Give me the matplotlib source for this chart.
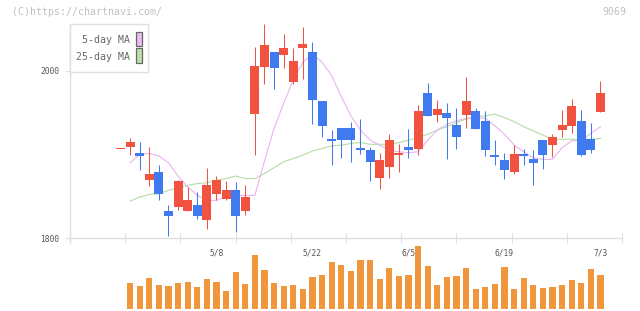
import matplotlib
matplotlib.use('Agg')
import matplotlib.pyplot as plt
from matplotlib.patches import Rectangle
from matplotlib.lines import Line2D
from matplotlib import transforms
import numpy as np

# 日足 (51本, 最終日 7/3)
opens = [1906, 1909, 1901, 1869, 1879, 1832, 1837, 1832, 1839, 1821,
         1853, 1847, 1857, 1832, 1948, 2004, 2022, 2019, 1986, 2027,
         2022, 1964, 1918, 1931, 1931, 1908, 1905, 1872, 1885, 1899,
         1909, 1906, 1973, 1947, 1949, 1935, 1947, 1952, 1940, 1899,
         1893, 1879, 1900, 1894, 1917, 1911, 1929, 1934, 1940, 1918, 1951]
highs = [1906, 1920, 1915, 1909, 1887, 1839, 1869, 1861, 1855, 1884,
         1874, 1868, 1867, 1863, 2028, 2056, 2022, 2044, 2027, 2052,
         2034, 1964, 1929, 1931, 1939, 1942, 1909, 1902, 1924, 1912,
         1930, 1959, 1985, 1965, 1961, 1955, 1992, 1955, 1952, 1917,
         1902, 1911, 1906, 1905, 1917, 1924, 1953, 1966, 1953, 1937, 1988]
lows = [1906, 1899, 1881, 1862, 1845, 1802, 1833, 1832, 1823, 1811,
        1845, 1845, 1807, 1827, 1899, 1984, 1978, 2003, 1984, 1990,
        1936, 1921, 1887, 1896, 1891, 1900, 1868, 1859, 1872, 1879,
        1896, 1899, 1946, 1939, 1894, 1906, 1931, 1930, 1898, 1887,
        1871, 1876, 1887, 1863, 1882, 1897, 1921, 1925, 1898, 1902, 1951]
closes = [1906, 1915, 1898, 1876, 1853, 1826, 1868, 1845, 1826, 1863,
          1869, 1857, 1826, 1849, 2006, 2031, 2003, 2027, 2012, 2032,
          1965, 1934, 1916, 1917, 1917, 1905, 1891, 1893, 1917, 1902,
          1905, 1952, 1946, 1954, 1943, 1921, 1964, 1930, 1905, 1897,
          1881, 1900, 1898, 1890, 1899, 1921, 1935, 1958, 1899, 1905, 1973]

# 移動平均 (チャートから読み取り)
ma5 = [np.nan, 1890, 1900, 1901, 1898, 1890, 1874, 1861, 1851, 1845,
       1845, 1850, 1851, 1851, 1851, 1892, 1931, 1961, 1989, 2010,
       2020, 2010, 1994, 1969, 1946, 1929, 1917, 1911, 1905, 1903,
       1902, 1903, 1917, 1929, 1936, 1940, 1943, 1944, 1943, 1934,
       1924, 1911, 1903, 1896, 1894, 1894, 1908, 1916, 1917, 1925, 1933]
ma25 = [np.nan, 1844, 1849, 1852, 1853, 1857, 1860, 1863, 1865, 1866,
        1869, 1871, 1874, 1871, 1871, 1877, 1884, 1891, 1895, 1899,
        1904, 1907, 1910, 1911, 1913, 1914, 1912, 1912, 1912, 1914,
        1917, 1920, 1924, 1929, 1933, 1938, 1942, 1945, 1946, 1948,
        1944, 1939, 1933, 1928, 1923, 1918, 1918, 1918, 1918, 1918, 1919]

# 出来高 (2本目から, 百株)
volume = [7500, 6600, 9000, 6900, 6600, 7500, 7800, 6300, 8700, 7800,
          5400, 10800, 7200, 15900, 11400, 7500, 6600, 6900, 5700, 9300,
          9900, 13800, 12900, 11100, 14400, 14400, 8700, 12000, 9600, 9900,
          18300, 12600, 6900, 9300, 9600, 12000, 5700, 6300, 7200, 12300,
          5700, 9000, 6900, 6000, 6300, 6900, 8400, 7500, 11700, 9900]

date_labels = ['5/8', '5/22', '6/5', '6/19', '7/3']
date_pos = [10, 20, 30, 40, 50]

UP = '#f25240'
DOWN = '#407af0'
VOLC = '#f0963c'
GRID = '#e0e0e0'
MONO = 'DejaVu Sans Mono'

W, H = 640, 311
fig = plt.figure(figsize=(W / 100, H / 100), dpi=100)


def fx(x):
    return x / W


def fy(y):
    return 1 - y / H


def px_axes(l, t, r, b):
    return fig.add_axes([fx(l), fy(b), (r - l) / W, (b - t) / H])


days = np.arange(len(closes))
XLIM = (-5.26, 52.24)

# ---- 株価 ----
ax = px_axes(70, 15, 622, 238)
ax.set_xlim(*XLIM)
ax.set_ylim(1800, 2066.5)
ax.set_facecolor('none')
for s in ['top', 'right']:
    ax.spines[s].set_visible(False)
for s in ['left', 'bottom']:
    ax.spines[s].set_color(GRID)
    ax.spines[s].set_linewidth(1.0)
ax.spines['left'].set_bounds(1800, 2055)

ax.set_yticks([1800, 2000])
ax.set_yticklabels(['1800', '2000'], fontsize=5.7, family=MONO, color='#555555')
ax.tick_params(axis='y', length=3.6, width=0.8, color=GRID, pad=4)
ax.set_xticks(np.linspace(XLIM[0], XLIM[1], 11)[1:])
ax.set_xticklabels([])
ax.tick_params(axis='x', length=6.5, width=0.8, color=GRID, direction='inout')

ax.plot(days, ma25, color='#b4dca4', lw=0.8, zorder=2)
ax.plot(days, ma5, color='#e8b4f0', lw=0.8, zorder=2)

colors = [UP if c >= o else DOWN for o, c in zip(opens, closes)]
ax.vlines(days, lows, highs, colors=colors, lw=0.75, zorder=3)
body_low = np.minimum(opens, closes)
body_h = np.maximum(np.abs(np.array(closes) - np.array(opens)), 1.3)
ax.bar(days, body_h, bottom=body_low, width=0.92, color=colors, lw=0, zorder=4)

fig.add_artist(Line2D([fx(70), fx(70)], [fy(238), fy(243)], color=GRID, lw=1.0))

# ---- 出来高 ----
axv = px_axes(70, 245, 622, 309)
axv.set_xlim(*XLIM)
axv.set_ylim(0, 18700)
axv.axis('off')
axv.bar(days[1:], volume, width=0.65, color=VOLC, lw=0)

trans = transforms.blended_transform_factory(ax.transData, fig.transFigure)
for p, lab in zip(date_pos, date_labels):
    fig.text(p, fy(253), lab, transform=trans, ha='center', va='center',
             fontsize=5.7, family=MONO, color='#555555', zorder=-1)

# ---- 凡例 ----
fig.add_artist(Rectangle((fx(70), fy(72)), 78 / W, 48 / H, transform=fig.transFigure,
                         fc='white', ec=GRID, lw=1.0, zorder=5))
for ty, lab, col, sy in [(40, '5-day MA', '#ecbcf2', 31.7), (56.7, '25-day MA', '#bce0ac', 48.3)]:
    fig.text(fx(129.5), fy(ty), lab, ha='right', va='center', fontsize=7.1,
             family=MONO, color='#666666', zorder=6)
    fig.add_artist(Rectangle((fx(136.3), fy(sy + 14.3)), 6 / W, 14.3 / H,
                             transform=fig.transFigure, fc=col, ec='#666666',
                             lw=0.9, zorder=6))

fig.text(fx(12), fy(12), '(C)https://chartnavi.com/', ha='left', va='center',
         fontsize=7.1, family=MONO, color='#c0c0c0')
fig.text(fx(626), fy(12), '9069', ha='right', va='center',
         fontsize=7.1, family=MONO, color='#c0c0c0')

fig.savefig('out.png', dpi=100)
